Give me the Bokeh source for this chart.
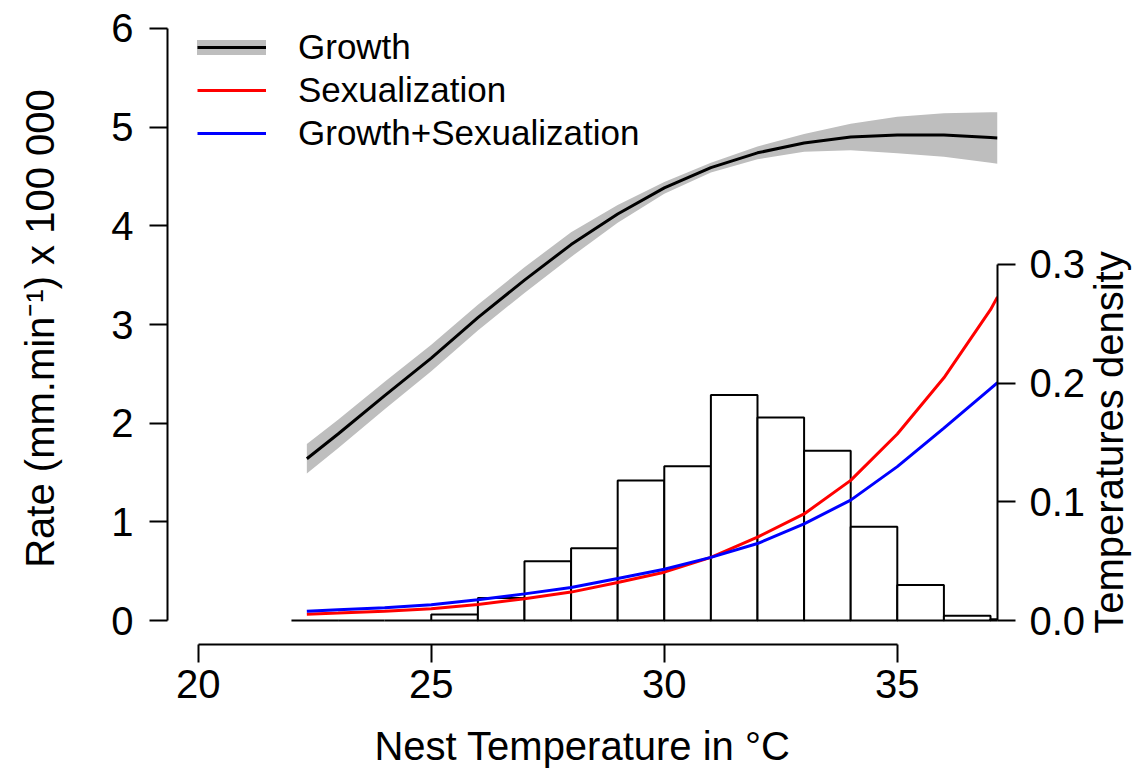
import math
from bokeh.plotting import figure
from bokeh.models import (Range1d, LinearAxis, FixedTicker, Legend, LegendItem,
                          PrintfTickFormatter, Label)
from bokeh.embed import file_html
from bokeh.resources import INLINE

# ---------------- data ----------------
temperature = [22.33, 23, 24, 25, 26, 27, 28, 29, 30, 31, 32, 33, 34, 35, 36, 37, 37.15]
growth = [1.64, 1.89, 2.28, 2.66, 3.07, 3.45, 3.81, 4.12, 4.385, 4.59, 4.74, 4.84,
          4.90, 4.92, 4.92, 4.895, 4.89]
growth_lower = [1.49, 1.745, 2.14, 2.525, 2.94, 3.32, 3.685, 4.03, 4.325, 4.54, 4.675,
                4.75, 4.765, 4.735, 4.70, 4.64, 4.63]
growth_upper = [1.79, 2.035, 2.42, 2.795, 3.20, 3.58, 3.935, 4.21, 4.445, 4.64, 4.805,
                4.93, 5.035, 5.105, 5.14, 5.15, 5.15]
sexualization = [0.064, 0.076, 0.095, 0.12, 0.163, 0.22, 0.288, 0.385, 0.49, 0.64, 0.845,
                 1.08, 1.42, 1.89, 2.46, 3.15, 3.28]
growth_sexualization = [0.094, 0.11, 0.13, 0.16, 0.21, 0.27, 0.335, 0.425, 0.52, 0.64,
                        0.78, 0.98, 1.22, 1.56, 1.95, 2.35, 2.41]

bin_left = [22, 23, 24, 25, 26, 27, 28, 29, 30, 31, 32, 33, 34, 35, 36, 37]
bin_right = [23, 24, 25, 26, 27, 28, 29, 30, 31, 32, 33, 34, 35, 36, 37, 38]
density = [0.0, 0.0, 0.0, 0.005, 0.019, 0.050, 0.061, 0.118, 0.130, 0.190, 0.171,
           0.143, 0.079, 0.030, 0.004, 0.001]

x_ticks = [20, 25, 30, 35]
rate_ticks = [0, 1, 2, 3, 4, 5, 6]
density_ticks = [0.0, 0.1, 0.2, 0.3]

FONT = "Liberation Sans"
AX_FS = "40px"
NAN = float("nan")

p = figure(frame_width=830, frame_height=632,
           min_border_left=167, min_border_right=135, min_border_top=12,
           min_border_bottom=125,
           x_range=Range1d(19.34, 37.15), y_range=Range1d(-0.243, 6.162),
           output_backend="svg", toolbar_location=None,
           x_axis_label="Nest Temperature in °C",
           y_axis_label="Rate (mm.min\u207b\u00b9) x 100 000")
p.extra_y_ranges = {"density": Range1d(-0.0202, 0.5123)}
p.outline_line_color = None
p.xgrid.visible = False
p.ygrid.visible = False
p.background_fill_color = "white"
p.border_fill_color = "white"

# histogram of nest temperatures (right axis)
p.quad(left=bin_left, right=bin_right, bottom=0, top=density, y_range_name="density",
       fill_color="white", line_color="black", line_width=2)

# growth confidence band + curves
p.varea(x=temperature, y1=growth_lower, y2=growth_upper, fill_color="#BEBEBE")
growth_line = p.line(temperature, growth, line_color="black", line_width=3)
sex_line = p.line(temperature, sexualization, line_color="#FF0000", line_width=3)
gs_line = p.line(temperature, growth_sexualization, line_color="#0000FF", line_width=3)

# legend key for the grey band (no visible data)
band_key = p.line(x=[NAN], y=[NAN], line_color="#BEBEBE", line_width=15,
                  line_cap="round")

legend = Legend(items=[LegendItem(label="Growth", renderers=[band_key, growth_line]),
                       LegendItem(label="Sexualization", renderers=[sex_line]),
                       LegendItem(label="Growth+Sexualization", renderers=[gs_line])],
                location=(30, 490), glyph_width=69, glyph_height=42, label_height=42,
                spacing=1, label_standoff=32, padding=0, margin=0,
                border_line_color=None, background_fill_alpha=0,
                label_text_font=FONT, label_text_font_size="35px",
                label_text_color="black")
p.add_layout(legend)

def style_axis(ax):
    ax.axis_line_color = "black"
    ax.axis_line_width = 2
    ax.major_tick_line_color = "black"
    ax.major_tick_line_width = 2
    ax.major_tick_out = 18
    ax.major_tick_in = 0
    ax.minor_tick_out = 0
    ax.minor_tick_in = 0
    ax.major_label_text_font = FONT
    ax.major_label_text_font_size = AX_FS
    ax.major_label_text_color = "black"
    ax.axis_label_text_font = FONT
    ax.axis_label_text_font_size = AX_FS
    ax.axis_label_text_font_style = "normal"
    ax.axis_label_text_color = "black"

xa = p.xaxis[0]
style_axis(xa)
xa.ticker = FixedTicker(ticks=x_ticks)
xa.bounds = (20, 35)
xa.major_label_standoff = 7
xa.axis_label_standoff = 23

ya = p.yaxis[0]
style_axis(ya)
ya.ticker = FixedTicker(ticks=rate_ticks)
ya.bounds = (0, 6)
ya.major_label_standoff = 16
ya.axis_label_standoff = 46
ya.major_label_orientation = "horizontal"

ra = LinearAxis(y_range_name="density", ticker=FixedTicker(ticks=density_ticks),
                formatter=PrintfTickFormatter(format="%.1f"), bounds=(0, 0.3))
style_axis(ra)
ra.major_label_standoff = 14
ra.major_label_orientation = "horizontal"
p.add_layout(ra, "right")

# right-hand axis title, centred on the density scale, reading upwards
density_title = Label(x=37.15, y=0.15, y_range_name="density", x_offset=111,
                      text="Temperatures density", angle=math.pi / 2,
                      text_align="center", text_baseline="middle",
                      text_font=FONT, text_font_size=AX_FS, text_color="black")
p.add_layout(density_title, "right")

open("out.html", "w").write(file_html(p, INLINE))
